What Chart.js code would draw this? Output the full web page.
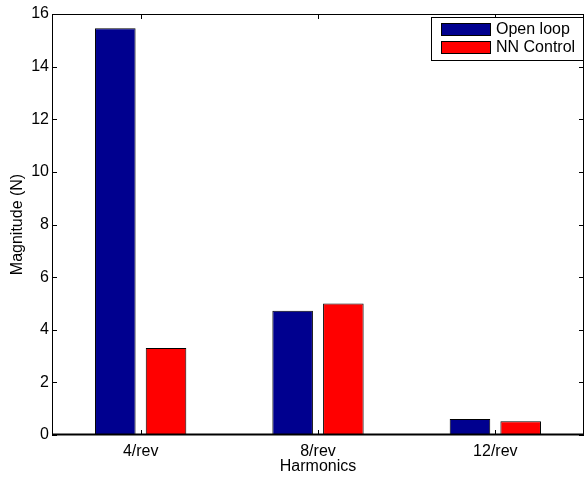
<!DOCTYPE html>
<html>
<head>
<meta charset="utf-8">
<script src="https://cdn.jsdelivr.net/npm/chart.js@4/dist/chart.umd.min.js"></script>
<style>
  html, body { margin: 0; padding: 0; background: #fff; }
  #wrap { width: 585px; height: 477px; }
</style>
</head>
<body>
<div id="wrap"><canvas id="chart" width="585" height="477"></canvas></div>
<script>
const harmonics = ['4/rev', '8/rev', '12/rev'];
const openLoop = [15.46, 4.72, 0.61];
const nnControl = [3.31, 5.0, 0.52];
const yMin = 0;
const yMax = 16;
const yStep = 2;

const FONT = '"Liberation Sans", Arial, Helvetica, sans-serif';
Chart.defaults.font.family = FONT;
Chart.defaults.font.size = 16;
Chart.defaults.color = '#000';

// MATLAB style box with inward ticks on all four sides
const axesBox = {
  id: 'axesBox',
  afterDatasetsDraw(chart) {
    const { ctx, chartArea: a, scales: { x, y } } = chart;
    const len = 5;
    ctx.save();
    ctx.strokeStyle = '#000';
    ctx.lineWidth = 1;
    ctx.strokeRect(a.left + 0.5, a.top + 0.5, a.right - a.left - 1, a.bottom - a.top - 1);
    ctx.beginPath();
    y.ticks.forEach(t => {
      const py = Math.round(y.getPixelForValue(t.value)) + 0.5;
      ctx.moveTo(a.left, py); ctx.lineTo(a.left + len, py);
      ctx.moveTo(a.right, py); ctx.lineTo(a.right - len, py);
    });
    harmonics.forEach((h, i) => {
      const px = Math.round(x.getPixelForValue(i)) + 0.5;
      ctx.moveTo(px, a.bottom); ctx.lineTo(px, a.bottom - len);
      ctx.moveTo(px, a.top); ctx.lineTo(px, a.top + len);
    });
    ctx.stroke();
    // bottom axis a bit heavier
    ctx.lineWidth = 2;
    ctx.beginPath();
    ctx.moveTo(a.left, a.bottom - 0.5); ctx.lineTo(a.right, a.bottom - 0.5);
    ctx.stroke();
    ctx.restore();
  }
};

// boxed legend in the upper right corner
const boxLegend = {
  id: 'boxLegend',
  afterDraw(chart) {
    const { ctx, chartArea: a } = chart;
    const left = 431, top = 17, right = a.right, bottom = 61;
    ctx.save();
    ctx.fillStyle = '#fff';
    ctx.fillRect(left, top, right - left, bottom - top);
    ctx.strokeStyle = '#000';
    ctx.lineWidth = 1;
    ctx.strokeRect(left + 0.5, top + 0.5, right - left - 1, bottom - top - 1);
    ctx.font = '16px ' + FONT;
    ctx.textBaseline = 'middle';
    chart.data.datasets.forEach((ds, i) => {
      const sy = 23 + i * 18;
      ctx.fillStyle = ds.backgroundColor;
      ctx.fillRect(441, sy, 50, 13);
      ctx.strokeRect(441.5, sy + 0.5, 49, 12);
      ctx.fillStyle = '#000';
      ctx.fillText(ds.label, 496, sy + 7);
    });
    ctx.restore();
  }
};

new Chart(document.getElementById('chart'), {
  type: 'bar',
  data: {
    labels: harmonics,
    datasets: [
      {
        label: 'Open loop',
        data: openLoop,
        backgroundColor: '#00008f',
        borderColor: '#000',
        borderWidth: 1,
        borderSkipped: false
      },
      {
        label: 'NN Control',
        data: nnControl,
        backgroundColor: '#ff0000',
        borderColor: '#000',
        borderWidth: 1,
        borderSkipped: false
      }
    ]
  },
  options: {
    responsive: false,
    animation: false,
    layout: { padding: { top: 14, right: 1, left: 0, bottom: 0 } },
    datasets: { bar: { categoryPercentage: 0.572, barPercentage: 0.8 } },
    plugins: {
      legend: { display: false },
      tooltip: { enabled: false }
    },
    scales: {
      x: {
        grid: { display: false, drawTicks: false },
        border: { display: false },
        ticks: { padding: 7, font: { size: 16 } },
        title: { display: true, text: 'Harmonics', font: { size: 16 }, padding: { top: 0, bottom: 1 } },
        afterFit(scale) { scale.height = 42; }
      },
      y: {
        min: yMin,
        max: yMax,
        grid: { display: false, drawTicks: false },
        border: { display: false },
        ticks: { stepSize: yStep, padding: 3, font: { size: 16 } },
        title: { display: true, text: 'Magnitude (N)', font: { size: 16 }, padding: { top: 8, bottom: 0 } },
        afterFit(scale) { scale.width = 52; }
      }
    }
  },
  plugins: [axesBox, boxLegend]
});
</script>
</body>
</html>
